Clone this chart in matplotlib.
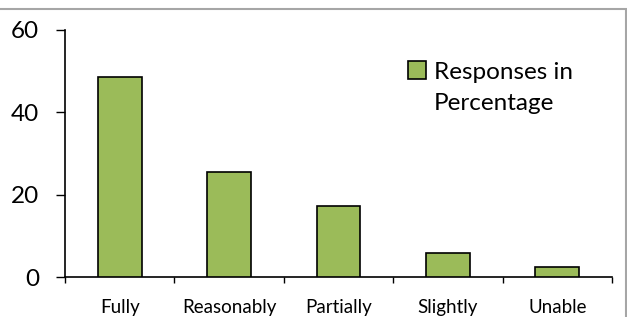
import matplotlib
matplotlib.use("Agg")
import matplotlib.pyplot as plt
from matplotlib.patches import Rectangle
import numpy as np

categories = ["Fully", "Reasonably", "Partially", "Slightly", "Unable"]
values = [48.5, 25.5, 17.2, 5.8, 2.5]
series_name = "Responses in"
series_name_line2 = "Percentage"
yticks = [0, 20, 40, 60]

plt.rcParams['font.family'] = ['Lato', 'DejaVu Sans']

W, H = 627, 317
fig = plt.figure(figsize=(W/100, H/100), dpi=100)
ax = fig.add_axes([65/W, 1-277/H, (612-65)/W, (277-29.7)/H])

x = np.arange(len(categories))
ax.bar(x, values, width=0.40, color="#9BBB59", edgecolor="black", linewidth=1.2,
       label=series_name, zorder=3)

ax.set_xlim(-0.5, len(categories) - 0.5)
ax.set_ylim(0, 60)
ax.set_yticks(yticks)
ax.set_yticklabels([str(t) for t in yticks], fontsize=17.5)
ax.tick_params(axis='y', direction='out', length=6.5, width=1, pad=12)

ax.set_xticks(x)
ax.set_xticklabels(categories, fontsize=13.5)
ax.tick_params(axis='x', which='major', length=0, pad=16)
ax.set_xticks(np.arange(-0.5, len(categories), 1.0), minor=True)
ax.tick_params(axis='x', which='minor', direction='out', length=4.5, width=1)

for s in ["top", "right"]:
    ax.spines[s].set_visible(False)
for s in ["left", "bottom"]:
    ax.spines[s].set_linewidth(1.2)

leg = ax.legend(loc="center left", bbox_to_anchor=((408-65)/(612-65), (277-72)/(277-29.7)),
                frameon=False, fontsize=17.5, handlelength=0.75, handleheight=0.75,
                handletextpad=0.3, borderaxespad=0, borderpad=0)
fig.text(434/W, 1-104/H, series_name_line2, fontsize=17.5, ha='left', va='center')

# chart border (grey frame)
fig.patches.append(Rectangle((-0.01, -0.01), 626/W + 0.01, 1 - 9/H + 0.01,
                             transform=fig.transFigure, fill=False,
                             edgecolor="#A6A6A6", linewidth=1.5))

fig.savefig("out.png", dpi=100)
